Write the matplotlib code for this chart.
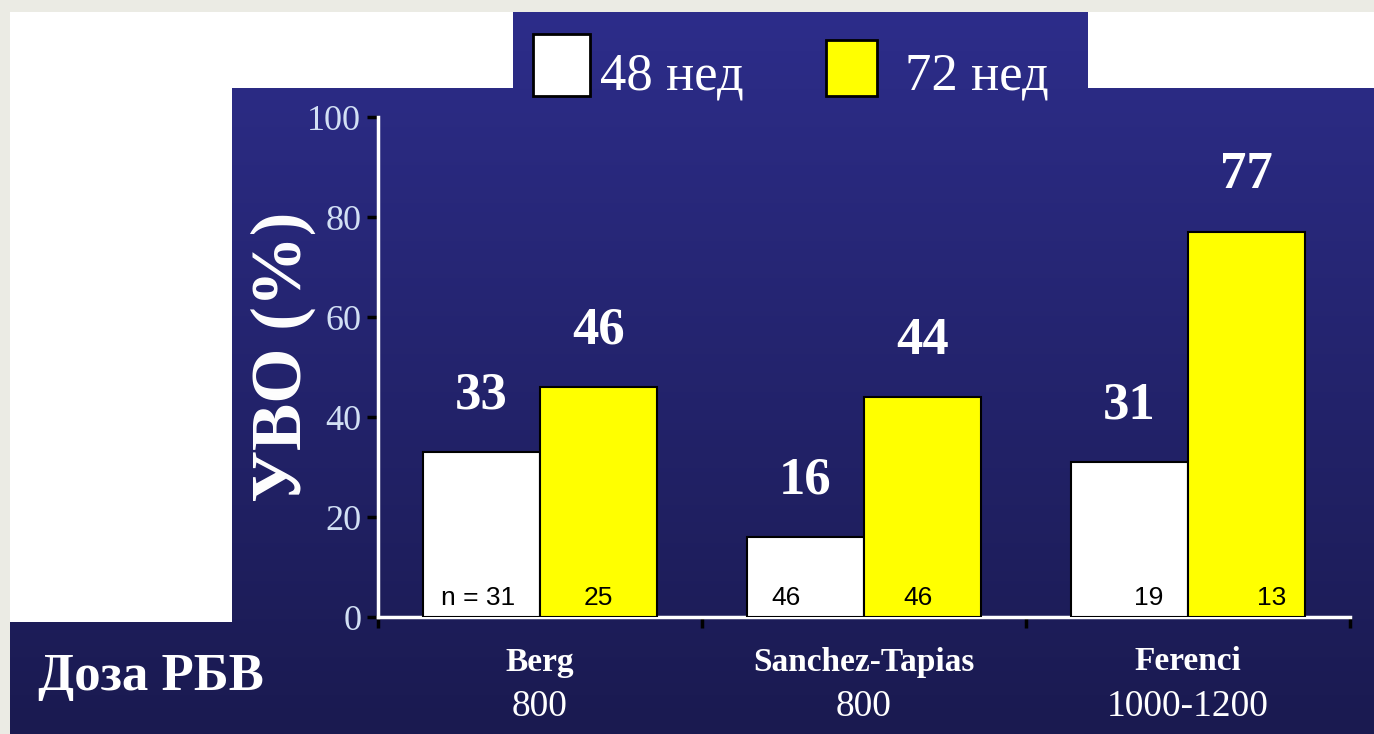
import matplotlib
matplotlib.use("Agg")
import matplotlib.pyplot as plt
import matplotlib.patches as mpatches
from matplotlib.transforms import blended_transform_factory
import numpy as np

# data
groups = ['Berg', 'Sanchez-Tapias', 'Ferenci']
doses = ['800', '800', '1000-1200']
svr_48 = [33, 16, 31]
svr_72 = [46, 44, 77]
n_48 = ['n = 31', '46', '19']
n_72 = ['25', '46', '13']
y_ticks = [0, 20, 40, 60, 80, 100]

W, H = 1374, 734
SERIF = ['Liberation Serif', 'DejaVu Serif']
SANS = ['Liberation Sans', 'DejaVu Sans']
TICK_COLOR = '#d2e0f4'

fig = plt.figure(figsize=(W / 100, H / 100), dpi=100)
fig.patch.set_facecolor('#ebebe4')

# background: white sheet + blue gradient panel (pixel coords, y down)
bg = fig.add_axes([0, 0, 1, 1], zorder=-10)
bg.set_xlim(0, W)
bg.set_ylim(H, 0)
bg.axis('off')
bg.add_patch(mpatches.Rectangle((10, 12), W - 10, H - 12, color='white', lw=0, zorder=0))
top = np.array([0x2d, 0x2d, 0x8a]) / 255
bottom = np.array([0x1a, 0x1a, 0x50]) / 255
t = np.linspace(0, 1, 256)[:, None]
grad = (top * (1 - t) + bottom * t)[:, None, :]
img = bg.imshow(grad, extent=[0, W, H, 12], aspect='auto', interpolation='bilinear',
                zorder=1)
panel = mpatches.Polygon([(513, 12), (1088, 12), (1088, 88), (W, 88), (W, H), (10, H),
                          (10, 622), (232, 622), (232, 88), (513, 88)],
                         closed=True, transform=bg.transData, fc='none', ec='none')
bg.add_patch(panel)
img.set_clip_path(panel)
bg.set_xlim(0, W)
bg.set_ylim(H, 0)

# legend, drawn in pixel space
bg.add_patch(mpatches.Rectangle((533, 34), 57, 62, fc='white', ec='black', lw=2, zorder=2))
bg.add_patch(mpatches.Rectangle((826, 40), 51, 56, fc='#ffff00', ec='black', lw=2, zorder=2))
bg.text(600, 90, '48 нед', color='white', fontsize=38, family=SERIF, va='baseline', zorder=3)
bg.text(905, 90, '72 нед', color='white', fontsize=38, family=SERIF, va='baseline', zorder=3)
bg.text(38, 690, 'Доза РБВ', color='white', fontsize=38, family=SERIF,
        fontweight='bold', va='baseline', zorder=3)

# main axes
ax = fig.add_axes([378 / W, (H - 617) / H, 972 / W, 500 / H])
ax.set_facecolor('none')
x = np.arange(len(groups))
w = 0.362
ax.bar(x - w / 2, svr_48, w, color='white', edgecolor='black', linewidth=1.5, zorder=3)
ax.bar(x + w / 2, svr_72, w, color='#ffff00', edgecolor='black', linewidth=1.5, zorder=3)

for i in range(len(groups)):
    ax.text(x[i] - w / 2, svr_48[i] + 6.5, str(svr_48[i]), ha='center', va='bottom',
            color='white', fontsize=38, fontweight='bold', family=SERIF)
    ax.text(x[i] + w / 2, svr_72[i] + 6.5, str(svr_72[i]), ha='center', va='bottom',
            color='white', fontsize=38, fontweight='bold', family=SERIF)

# sample sizes inside the bars
n48_dx = [-0.01, -0.06, 0.06]
n72_dx = [0.0, -0.015, 0.077]
for i in range(len(groups)):
    ax.text(x[i] - w / 2 + n48_dx[i], 3.8, n_48[i], ha='center', va='center',
            color='black', fontsize=19, family=SANS, zorder=4)
    ax.text(x[i] + w / 2 + n72_dx[i], 3.8, n_72[i], ha='center', va='center',
            color='black', fontsize=19, family=SANS, zorder=4)

ax.set_xlim(-0.5, len(groups) - 0.5)
ax.set_ylim(0, 100)
ax.set_yticks(y_ticks)
ax.set_yticklabels([str(v) for v in y_ticks], family=SERIF, fontsize=26, color=TICK_COLOR)
ax.set_xticks(np.arange(-0.5, len(groups), 1.0))
ax.set_xticklabels([])
ax.tick_params(axis='both', direction='out', length=8, width=2.5, color='black', pad=4)

for side in ['top', 'right']:
    ax.spines[side].set_visible(False)
for side in ['left', 'bottom']:
    ax.spines[side].set_color('white')
    ax.spines[side].set_linewidth(2.5)

ax.set_ylabel('УВО (%)', family=SERIF, fontsize=51, fontweight='bold',
              color='white', labelpad=-6, y=0.52)

# group labels under the axis
trans = blended_transform_factory(ax.transData, fig.transFigure)
for i in range(len(groups)):
    ax.text(x[i], 1 - 662 / H, groups[i], transform=trans, ha='center', va='center',
            color='white', fontsize=24, fontweight='bold', family=SERIF)
    ax.text(x[i], 1 - 707 / H, doses[i], transform=trans, ha='center', va='center',
            color='white', fontsize=27, family=SERIF)

fig.savefig('out.png', dpi=100, facecolor=fig.get_facecolor())
